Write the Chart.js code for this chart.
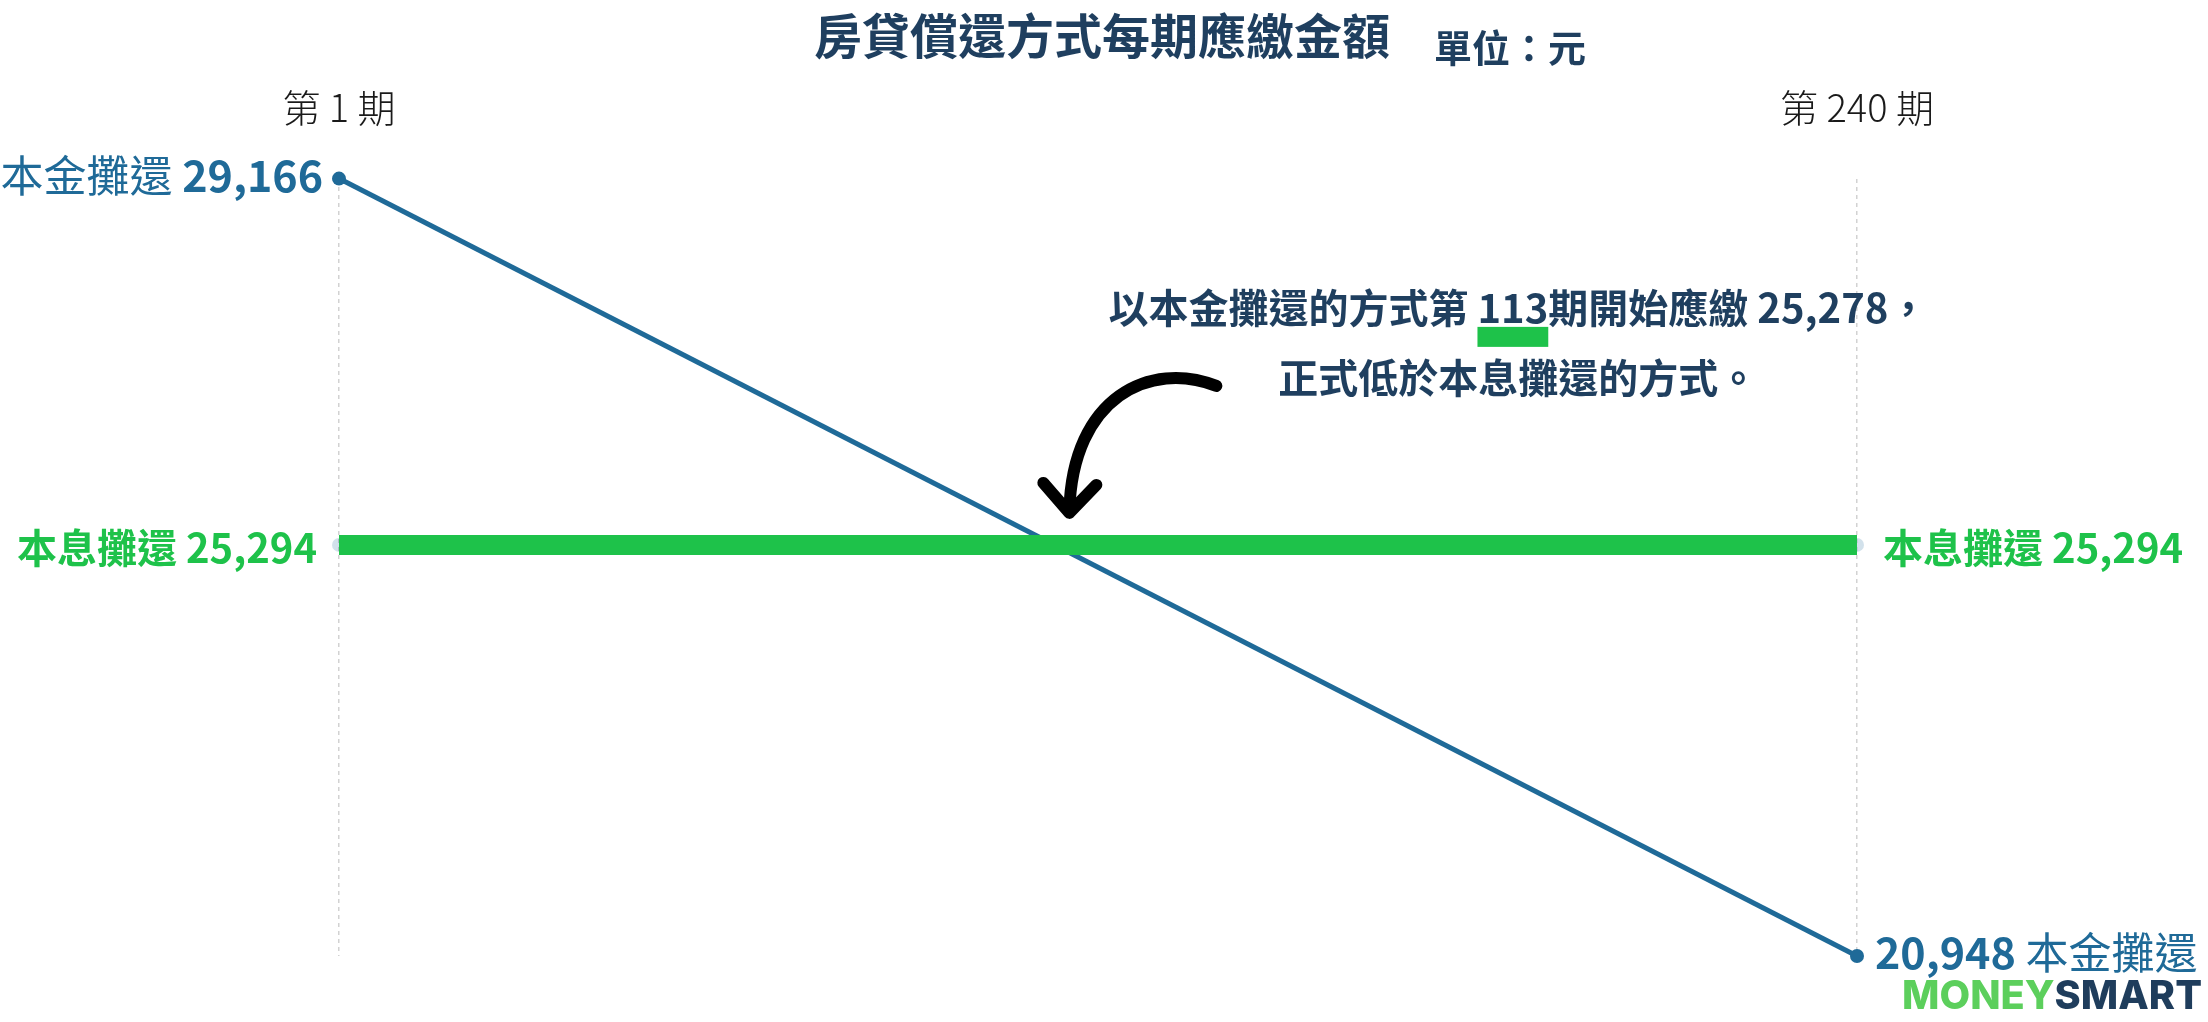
<!DOCTYPE html>
<html>
<head>
<meta charset="utf-8">
<script src="https://cdn.jsdelivr.net/npm/chart.js@4.4.1/dist/chart.umd.min.js"></script>
<style>
  html, body { margin: 0; padding: 0; background: #fff; }
</style>
</head>
<body>
<canvas id="chart" width="2208" height="1022"></canvas>
<script>
// 期數與每期應繳金額（元）
const periods = [1, 240];
const principalPay = [29166, 20948]; // 本金攤還
const annuityPay = [25294, 25294];   // 本息攤還
const principalName = '本金攤還';
const annuityName = '本息攤還';
// 本金攤還開始低於本息攤還的那一期
const crossPeriod = 113;
const crossPay = 25278;

const CJK = '"Noto Sans CJK TC", "Noto Sans", sans-serif';
const BLUE = '#1f6a98';
const GREEN = '#1ec24a';
const NAVY = '#1f3f5f';

const fmt = v => v.toLocaleString('en-US');

// 多段不同字重的文字
function drawParts(ctx, parts, x, y, align) {
  let total = 0;
  parts.forEach(p => { ctx.font = p.font; p.w = ctx.measureText(p.text).width; total += p.w; });
  let cx = align === 'right' ? x - total : (align === 'center' ? x - total / 2 : x);
  ctx.textAlign = 'left';
  ctx.textBaseline = 'middle';
  parts.forEach(p => {
    ctx.font = p.font;
    ctx.fillStyle = p.color;
    ctx.fillText(p.text, cx, y);
    p.x = cx;
    cx += p.w;
  });
  return parts;
}

const notes = {
  id: 'notes',
  afterDraw(chart) {
    const ctx = chart.ctx;
    const {chartArea, scales: {x, y}} = chart;
    ctx.save();

    // 標題
    const midX = (chartArea.left + chartArea.right) / 2 + 4;
    ctx.font = '700 48px ' + CJK;
    ctx.fillStyle = NAVY;
    ctx.textAlign = 'center';
    ctx.textBaseline = 'middle';
    const title = '房貸償還方式每期應繳金額';
    ctx.fillText(title, midX, 36);
    const tw = ctx.measureText(title).width;
    ctx.font = '700 38px ' + CJK;
    ctx.textAlign = 'left';
    ctx.fillText('單位：元', midX + tw / 2 + 44, 48);

    // 端點標籤
    const pm = chart.getDatasetMeta(0).data;
    const am = chart.getDatasetMeta(1).data;
    drawParts(ctx, [
      {text: principalName + ' ', font: '400 43px ' + CJK, color: BLUE},
      {text: fmt(principalPay[0]), font: '700 43px ' + CJK, color: BLUE}
    ], pm[0].x - 16, pm[0].y - 3, 'right');
    drawParts(ctx, [
      {text: fmt(principalPay[1]) + ' ', font: '700 43px ' + CJK, color: BLUE},
      {text: principalName, font: '400 43px ' + CJK, color: BLUE}
    ], pm[1].x + 18, pm[1].y - 3, 'left');
    drawParts(ctx, [
      {text: annuityName + ' ' + fmt(annuityPay[0]), font: '700 40px ' + CJK, color: GREEN}
    ], am[0].x - 22, am[0].y + 3, 'right');
    drawParts(ctx, [
      {text: annuityName + ' ' + fmt(annuityPay[1]), font: '700 40px ' + CJK, color: GREEN}
    ], am[1].x + 26, am[1].y + 3, 'left');

    // 交叉點說明
    const cx = x.getPixelForValue(crossPeriod);
    const cy = y.getPixelForValue(annuityPay[0]);
    const tx = cx + 468;
    const f = '700 40px ' + CJK;
    const line1 = drawParts(ctx, [
      {text: '以本金攤還的方式第 ', font: f, color: NAVY},
      {text: String(crossPeriod), font: f, color: NAVY},
      {text: '期開始應繳 ' + fmt(crossPay) + '，', font: f, color: NAVY}
    ], tx, cy - 237, 'center');
    ctx.fillStyle = GREEN;
    ctx.fillRect(line1[1].x, cy - 218, line1[1].w, 20);
    drawParts(ctx, [
      {text: '正式低於' + annuityName + '的方式。', font: f, color: NAVY}
    ], tx, cy - 167, 'center');

    // 手繪箭頭
    ctx.strokeStyle = '#000';
    ctx.lineWidth = 12;
    ctx.lineCap = 'round';
    ctx.lineJoin = 'round';
    ctx.beginPath();
    ctx.moveTo(cx + 166, cy - 159);
    ctx.bezierCurveTo(cx + 100, cy - 185, cx + 22, cy - 148, cx + 19, cy - 34);
    ctx.stroke();
    ctx.beginPath();
    ctx.moveTo(cx - 7, cy - 62);
    ctx.lineTo(cx + 19, cy - 32);
    ctx.lineTo(cx + 46, cy - 60);
    ctx.stroke();

    // 商標
    ctx.font = '800 40px Inter, "Noto Sans", sans-serif';
    ctx.textBaseline = 'alphabetic';
    ctx.textAlign = 'left';
    const w1 = ctx.measureText('MONEY').width;
    const w2 = ctx.measureText('SMART').width;
    const sx = 300 / (w1 + w2);
    ctx.translate(chart.width - 6 - 300, 1009);
    ctx.scale(sx, 1);
    ctx.fillStyle = '#5ccf5c';
    ctx.fillText('MONEY', 0, 0);
    ctx.fillStyle = '#1f3d5c';
    ctx.fillText('SMART', w1, 0);

    ctx.restore();
  }
};

const toXY = vals => periods.map((p, i) => ({x: p, y: vals[i]}));
const allPay = principalPay.concat(annuityPay);

new Chart(document.getElementById('chart'), {
  type: 'line',
  data: {
    datasets: [
      {
        label: principalName,
        data: toXY(principalPay),
        borderColor: BLUE,
        borderWidth: 5,
        pointRadius: 7,
        pointBackgroundColor: BLUE,
        pointBorderWidth: 0,
        clip: false,
        order: 1
      },
      {
        label: annuityName,
        data: toXY(annuityPay),
        borderColor: GREEN,
        borderWidth: 20,
        borderCapStyle: 'butt',
        pointRadius: 0,
        clip: false,
        order: 0
      },
      {
        label: annuityName + '端點',
        data: toXY(annuityPay),
        showLine: false,
        pointRadius: 7,
        pointBackgroundColor: 'rgba(31,107,153,0.2)',
        pointBorderWidth: 0,
        clip: false,
        order: 2
      }
    ]
  },
  options: {
    responsive: false,
    animation: false,
    devicePixelRatio: 1,
    layout: { padding: { left: 339, right: 351, top: 37, bottom: 66 } },
    plugins: { legend: { display: false }, tooltip: { enabled: false }, title: { display: false } },
    scales: {
      x: {
        type: 'linear',
        position: 'top',
        min: periods[0],
        max: periods[periods.length - 1],
        afterBuildTicks: s => { s.ticks = periods.map(v => ({value: v})); },
        ticks: {
          callback: v => '第 ' + v + ' 期',
          font: { family: CJK, size: 38, weight: '300' },
          color: '#1a1a1a',
          padding: 48,
          maxRotation: 0
        },
        grid: { color: '#d2d2d2', lineWidth: 1.5, drawTicks: false },
        border: { display: false, dash: [4, 4] }
      },
      y: {
        display: false,
        min: Math.min(...allPay),
        max: Math.max(...allPay)
      }
    }
  },
  plugins: [notes]
});
</script>
</body>
</html>
